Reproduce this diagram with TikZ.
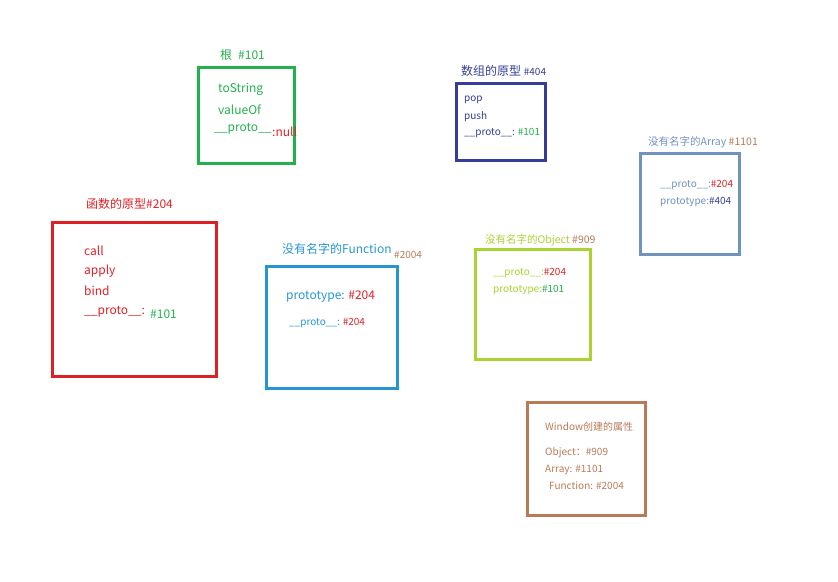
\documentclass[tikz,border=0pt]{standalone}
\usepackage{fontspec}
\setmainfont{Noto Sans CJK SC}
\definecolor{cgreen}{RGB}{34,177,76}
\definecolor{cnavy}{RGB}{52,62,150}
\definecolor{csteel}{RGB}{112,146,190}
\definecolor{cred}{RGB}{220,32,38}
\definecolor{cblue}{RGB}{38,150,210}
\definecolor{cyg}{RGB}{170,210,50}
\definecolor{cbrown}{RGB}{185,122,87}
\begin{document}
\begin{tikzpicture}[x=1pt,y=-1pt,
  frame/.style={draw=#1,line width=3pt,inner sep=0pt},
  txt/.style={anchor=west,inner sep=0pt,font=\fontsize{12}{14}\selectfont},
  small/.style={anchor=west,inner sep=0pt,font=\fontsize{10}{12}\selectfont},
  stitle/.style={anchor=west,inner sep=0pt,font=\fontsize{10.5}{12}\selectfont},
  ttl/.style={anchor=west,inner sep=0pt,font=\fontsize{12}{14}\selectfont}]
\useasboundingbox (0,0) rectangle (838,581);
% root box
\node[frame=cgreen,minimum width=96pt,minimum height=96pt] (root) at (246,115) {};
\node[ttl,text=cgreen] (roott) at (220,55) {根\hspace{6pt}\#101};
\node[txt,text=cgreen] (r1) at (218,89) {toString};
\node[txt,text=cgreen] (r2) at (218,110) {valueOf};
\node[txt,text=cgreen] (r3) at (214,129) {\_\_proto\_\_};
\node[txt,text=cred] (r4) at (272,132) {:null};
% array prototype
\node[frame=cnavy,minimum width=89pt,minimum height=77pt] (arrp) at (500.5,121.5) {};
\node[ttl,text=cnavy] (arrpt) at (461,71) {数组的原型 {\fontsize{10}{12}\selectfont\#404}};
\node[small,text=cnavy] (a1) at (464,100) {pop};
\node[small,text=cnavy] (a2) at (464,117) {push};
\node[small,text=cnavy] (a3) at (464,133) {\_\_proto\_\_: \textcolor{cgreen}{\#101}};
% anonymous Array
\node[frame=csteel,minimum width=99pt,minimum height=101pt] (arr) at (689.5,203.5) {};
\node[stitle,text=csteel] (arrt) at (648,142) {没有名字的Array \textcolor{cbrown}{\#1101}};
\node[small,text=csteel] (b1) at (660,185) {\_\_proto\_\_:\textcolor{cred}{\#204}};
\node[small,text=csteel] (b2) at (660,202) {prototype:\textcolor{cnavy}{\#404}};
% function prototype
\node[frame=cred,minimum width=164pt,minimum height=154pt] (fnp) at (134,299) {};
\node[ttl,text=cred] (fnpt) at (86,204) {函数的原型\#204};
\node[txt,text=cred] (f1) at (84,251) {call};
\node[txt,text=cred] (f2) at (84,271) {apply};
\node[txt,text=cred] (f3) at (84,291) {bind};
\node[txt,text=cred] (f4) at (84,312) {\_\_proto\_\_:};
\node[txt,text=cgreen] (f5) at (150,314) {\#101};
% anonymous Function
\node[frame=cblue,minimum width=131pt,minimum height=122pt] (fn) at (331.5,327) {};
\node[ttl,text=cblue] (fnt) at (282,249) {没有名字的Function};
\node[small,text=cbrown] (fnt2) at (394,255) {\#2004};
\node[txt,text=cblue] (g1) at (286,297) {prototype: \textcolor{cred}{\#204}};
\node[small,text=cblue] (g2) at (289,323) {\_\_proto\_\_: \textcolor{cred}{\#204}};
% anonymous Object
\node[frame=cyg,minimum width=115pt,minimum height=110pt] (obj) at (532.5,304) {};
\node[stitle,text=cyg] (objt) at (485,240) {没有名字的Object \textcolor{cbrown}{\#909}};
\node[small,text=cyg] (o1) at (493,273) {\_\_proto\_\_:\textcolor{cred}{\#204}};
\node[small,text=cyg] (o2) at (493,290) {prototype:\textcolor{cgreen}{\#101}};
% window
\node[frame=cbrown,minimum width=118pt,minimum height=113pt] (win) at (586,458.5) {};
\node[small,text=cbrown] (w0) at (545,427) {Window创建的属性};
\node[small,text=cbrown] (w1) at (545,453) {Object：\#909};
\node[small,text=cbrown] (w2) at (545,470) {Array: \#1101};
\node[small,text=cbrown] (w3) at (549,486) {Function: \#2004};
\end{tikzpicture}
\end{document}
